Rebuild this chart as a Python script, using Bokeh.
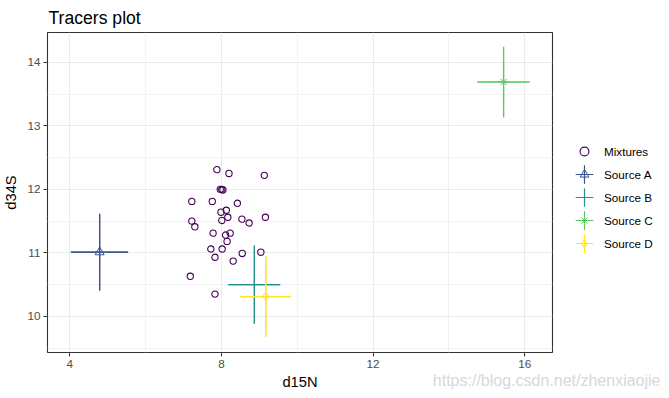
import numpy as np
from bokeh.plotting import figure
from bokeh.models import Range1d, FixedTicker, Legend, LegendItem, Title
from bokeh.embed import file_html
from bokeh.resources import INLINE

# ---- data ----
mix_d15N = [7.88, 8.20, 9.13, 8.01, 7.97, 8.04, 7.22, 7.76, 8.42, 7.99,
            8.13, 8.17, 8.01, 9.16, 8.54, 8.73, 7.22, 7.30, 7.78, 8.23,
            8.11, 8.15, 7.72, 8.02, 7.83, 8.55, 9.04, 8.31, 7.18, 7.83]
mix_d34S = [12.31, 12.25, 12.22, 12.00, 12.00, 11.99, 11.81, 11.81, 11.78, 11.64,
            11.67, 11.56, 11.51, 11.56, 11.53, 11.47, 11.50, 11.41, 11.31, 11.31,
            11.28, 11.18, 11.06, 11.06, 10.93, 10.99, 11.01, 10.87, 10.63, 10.35]

src_names = ["Source A", "Source B", "Source C", "Source D"]
src_d15N_mean = [4.79, 8.87, 15.44, 9.17]
src_d15N_sd = [0.75, 0.68, 0.69, 0.66]
src_d34S_mean = [11.01, 10.50, 13.69, 10.31]
src_d34S_sd = [0.60, 0.61, 0.55, 0.64]
src_colors = ["#3B528B", "#21908C", "#5DC863", "#FDE725"]
src_markers = ["triangle", "cross", "asterisk", "diamond_cross"]
mix_color = "#440154"

x_ticks = [4, 8, 12, 16]
x_minor = [6, 10, 14]
y_ticks = [10, 11, 12, 13, 14]
y_minor = [9.5, 10.5, 11.5, 12.5, 13.5]

FONT = "Liberation Sans"

p = figure(frame_width=505, frame_height=320,
           x_range=Range1d(3.415, 16.73), y_range=Range1d(9.43, 14.47),
           output_backend="svg", toolbar_location=None, title="Tracers plot",
           min_border_left=38, min_border_right=110, min_border_top=0, min_border_bottom=37,
           background_fill_color="white", border_fill_color="white")

p.outline_line_color = "#333333"
p.outline_line_width = 1.1

p.title.text_font = FONT
p.title.text_font_size = "17.6px"
p.title.text_font_style = "normal"
p.title.text_color = "black"
p.title.align = "left"
p.title.standoff = 10
p.title.offset = 1

p.xaxis.ticker = FixedTicker(ticks=x_ticks, minor_ticks=x_minor)
p.yaxis.ticker = FixedTicker(ticks=y_ticks, minor_ticks=y_minor)
p.xaxis.axis_label = "d15N"
p.yaxis.axis_label = "d34S"
for ax in (p.xaxis[0], p.yaxis[0]):
    ax.axis_line_color = None
    ax.major_tick_line_color = "#333333"
    ax.major_tick_out = 4
    ax.major_tick_in = 0
    ax.minor_tick_line_color = None
    ax.major_label_text_font = FONT
    ax.major_label_text_font_size = "11.7px"
    ax.major_label_text_color = "#4D4D4D"
    ax.axis_label_text_font = FONT
    ax.axis_label_text_font_size = "14.7px"
    ax.axis_label_text_font_style = "normal"
    ax.axis_label_text_color = "black"
    ax.major_label_standoff = 3
    ax.axis_label_standoff = 3
p.yaxis.axis_label_standoff = 5

for g in (p.xgrid[0], p.ygrid[0]):
    g.grid_line_color = "#EBEBEB"
    g.grid_line_width = 1.1
    g.minor_grid_line_color = "#F2F2F2"
    g.minor_grid_line_width = 1

# mixtures
mix_r = p.scatter(mix_d15N, mix_d34S, marker="circle", size=6.3, fill_color=None,
                  line_color=mix_color, line_width=1.1)

items = [LegendItem(label="Mixtures", renderers=[mix_r])]
xm = np.array(src_d15N_mean); xs = np.array(src_d15N_sd)
ym = np.array(src_d34S_mean); ys = np.array(src_d34S_sd)
for i, name in enumerate(src_names):
    c = src_colors[i]
    # error bars (mean +/- sd)
    p.segment(x0=[xm[i] - xs[i]], y0=[ym[i]], x1=[xm[i] + xs[i]], y1=[ym[i]],
              line_color=c, line_width=1.2)
    p.segment(x0=[xm[i]], y0=[ym[i] - ys[i]], x1=[xm[i]], y1=[ym[i] + ys[i]],
              line_color=c, line_width=1.2)
    # the same bars as flat ellipses: these give the legend its cross of error bars
    hr = p.ellipse(x=[xm[i]], y=[ym[i]], width=[2 * xs[i]], height=0.1,
                   height_units="screen", fill_color=None, line_color=c, line_width=1.2)
    vr = p.ellipse(x=[xm[i]], y=[ym[i]], width=0.1, width_units="screen",
                   height=[2 * ys[i]], fill_color=None, line_color=c, line_width=1.2)
    mr = p.scatter([xm[i]], [ym[i]], marker=src_markers[i], size=9, fill_color=None,
                   line_color=c, line_width=1)
    items.append(LegendItem(label=name, renderers=[hr, vr, mr]))

legend = Legend(items=items, location=(21, 98), margin=0, padding=0,
                glyph_width=22, glyph_height=22, label_height=22, spacing=1,
                label_standoff=9, label_text_font=FONT, label_text_font_size="11.7px",
                label_text_color="black", border_line_color=None, background_fill_alpha=0)
p.add_layout(legend, "right")

# watermark of the source image, drawn below the x axis
wm = Title(text="https://blog.csdn.net/zhenxiaojie", align="right", vertical_align="top",
           offset=-108, standoff=-42, text_font=FONT, text_font_size="16px",
           text_font_style="normal", text_color="#D8D8D8")
p.add_layout(wm, "below")

open("out.html", "w").write(file_html(p, INLINE))
